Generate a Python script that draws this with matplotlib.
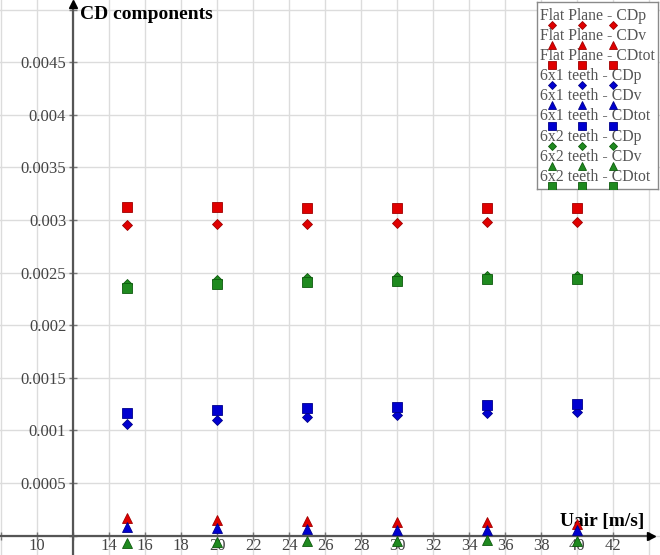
import matplotlib
matplotlib.use("Agg")
import matplotlib.pyplot as plt

# free-stream velocity [m/s]
uair = [15, 20, 25, 30, 35, 40]

# drag coefficient components
flat_cdp   = [0.002950, 0.002959, 0.002965, 0.002971, 0.002978, 0.002981]
flat_cdv   = [0.000164, 0.000148, 0.000139, 0.000132, 0.000126, 0.000113]
flat_cdtot = [0.003122, 0.003120, 0.003112, 0.003112, 0.003110, 0.003110]

t61_cdp   = [0.001057, 0.001102, 0.001126, 0.001149, 0.001168, 0.001174]
t61_cdv   = [0.000085, 0.000069, 0.000063, 0.000056, 0.000053, 0.000053]
t61_cdtot = [0.001168, 0.001190, 0.001216, 0.001221, 0.001238, 0.001247]

t62_cdp   = [0.002393, 0.002431, 0.002450, 0.002455, 0.002465, 0.002471]
t62_cdv   = [-0.000073, -0.000058, -0.000048, -0.000051, -0.000039, -0.000048]
t62_cdtot = [0.002355, 0.002393, 0.002412, 0.002424, 0.002436, 0.002443]

x_ticks = list(range(8, 46, 2))
y_ticks = [0.0, 0.0005, 0.001, 0.0015, 0.002, 0.0025, 0.003, 0.0035, 0.004, 0.0045, 0.005]
y_tick_labels = ["", "0.0005", "0.001", "0.0015", "0.002", "0.0025", "0.003",
                 "0.0035", "0.004", "0.0045", ""]

RED   = "#e00000"
BLUE  = "#0000d0"
GREEN = "#1f8a1f"
EDGE  = {RED: "#a00000", BLUE: "#00008a", GREEN: "#0d5a0d"}

series = [
    ("Flat Plane - CDp",   flat_cdp,   RED,   "D"),
    ("Flat Plane - CDv",   flat_cdv,   RED,   "^"),
    ("Flat Plane - CDtot", flat_cdtot, RED,   "s"),
    ("6x1 teeth - CDp",    t61_cdp,    BLUE,  "D"),
    ("6x1 teeth - CDv",    t61_cdv,    BLUE,  "^"),
    ("6x1 teeth - CDtot",  t61_cdtot,  BLUE,  "s"),
    ("6x2 teeth - CDp",    t62_cdp,    GREEN, "D"),
    ("6x2 teeth - CDv",    t62_cdv,    GREEN, "^"),
    ("6x2 teeth - CDtot",  t62_cdtot,  GREEN, "s"),
]
msize = {"D": 4.6, "^": 7.0, "s": 7.0}

plt.rcParams["font.family"] = ["Liberation Serif", "DejaVu Serif"]

fig = plt.figure(figsize=(6.6, 5.55), dpi=100)
ax = fig.add_axes([0, 0, 1, 1])

x_lo, x_hi = 7.94, 44.6
y_lo, y_hi = -0.000184, 0.005091
ax.set_xlim(x_lo, x_hi)
ax.set_ylim(y_lo, y_hi)

# axes cross at x=12, y=0
ax.spines["left"].set_position(("data", 12))
ax.spines["bottom"].set_position(("data", 0))
ax.spines["top"].set_visible(False)
ax.spines["right"].set_visible(False)
for s in ("left", "bottom"):
    ax.spines[s].set_color("#555555")
    ax.spines[s].set_linewidth(1.6)
ax.spines["left"].set_bounds(y_lo, 0.00505)
ax.spines["bottom"].set_bounds(x_lo, 44.1)
ax.plot(44.1, 0, ">", color="black", ms=6, clip_on=False, zorder=5)
ax.plot(12, 0.00505, "^", color="black", ms=6, clip_on=False, zorder=5)

ax.set_xticks(x_ticks)
ax.set_xticklabels(["" if (t == 12 or t < 10 or t > 42) else str(t) for t in x_ticks])
ax.set_yticks(y_ticks)
ax.set_yticklabels(y_tick_labels)
ax.tick_params(direction="inout", length=6, width=1, color="#777777",
               labelcolor="#444444", labelsize=12, pad=2)
ax.tick_params(axis="x", pad=-1)
ax.grid(True, color="#dcdcdc", linewidth=1.0)
ax.set_axisbelow(True)

ax.text(12.39, 0.004949, "CD components", fontsize=14, fontweight="bold",
        ha="left", va="center", zorder=2)
ax.text(39.06, 0.000139, "Uair [m/s]", fontsize=14, fontweight="bold",
        ha="left", va="center", zorder=2)

for label, vals, col, mk in series:
    ax.plot(uair, vals, linestyle="none", marker=mk, ms=msize[mk],
            color=col, markeredgecolor=EDGE[col], markeredgewidth=0.6,
            label=label, zorder=4, clip_on=False)

# legend box: text line with three sample markers under it
lax = fig.add_axes([537 / 660, 1 - 189 / 555, 121 / 660, 187 / 555])
lax.set_xlim(0, 121)
lax.set_ylim(187, 0)
lax.set_xticks([])
lax.set_yticks([])
for s in lax.spines.values():
    s.set_color("#8a8a8a")
    s.set_linewidth(1.0)
for i, (label, vals, col, mk) in enumerate(series):
    ty = 14 + 20.1 * i
    my = 23 + 20.1 * i
    lax.plot([15, 45, 76], [my] * 3, linestyle="none", marker=mk,
             ms=msize[mk] * 0.82, color=col, markeredgecolor=EDGE[col],
             markeredgewidth=0.6, zorder=3)
    lax.text(3, ty, label, fontsize=11.3, color="#555555", ha="left",
             va="center", zorder=2)

fig.savefig("out.png", dpi=100)
